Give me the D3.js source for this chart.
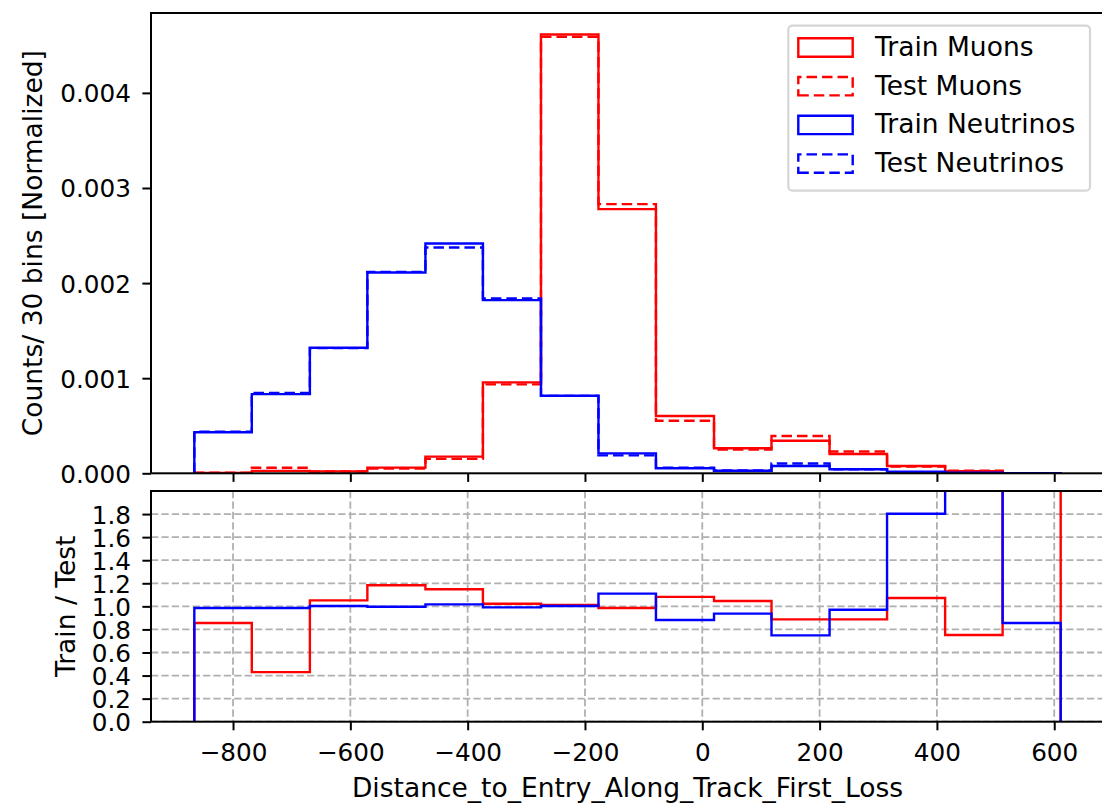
<!DOCTYPE html>
<html>
<head>
<meta charset="utf-8">
<script src="https://cdn.jsdelivr.net/npm/d3@7"></script>
<style>
  html, body { margin: 0; padding: 0; background: #fff; }
  svg { display: block; font-family: "DejaVu Sans", sans-serif; }
</style>
</head>
<body>
<svg id="chart" width="1102" height="803"></svg>
<script>
// ---------------- data ----------------
const binEdges = [-866, -768, -669, -571, -472, -374, -275, -177, -79, 20, 118, 217, 315, 414, 512, 611];

const trainMuons     = [0.000004, 0.000025, 0.000020, 0.000060, 0.000175, 0.000956, 0.004614, 0.002778, 0.000602, 0.000263, 0.000343, 0.000203, 0.000077, 0.000021, 0.000002];
const testMuons      = [0.000005, 0.000058, 0.000019, 0.000051, 0.000152, 0.000935, 0.004589, 0.002830, 0.000553, 0.000251, 0.000392, 0.000229, 0.000072, 0.000028, 0.0000005];
const trainNeutrinos = [0.000431, 0.000833, 0.001320, 0.002112, 0.002417, 0.001821, 0.000816, 0.000210, 0.000053, 0.000027, 0.000077, 0.000042, 0.000017, 0.000006, 0.0000015];
const testNeutrinos  = [0.000437, 0.000845, 0.001316, 0.002118, 0.002375, 0.001838, 0.000814, 0.000189, 0.000060, 0.000029, 0.000103, 0.000043, 0.0000094, 0.000002, 0.0000018];

const ratioMuons     = [0.856, 0.430, 1.052, 1.183, 1.148, 1.023, 1.012, 0.986, 1.082, 1.047, 0.887, 0.887, 1.073, 0.751, 4.0];
const ratioNeutrinos = [0.986, 0.986, 1.003, 0.997, 1.017, 0.991, 1.003, 1.110, 0.882, 0.937, 0.748, 0.971, 1.803, 3.0, 0.856];

const xTicks      = [-800, -600, -400, -200, 0, 200, 400, 600];
const yTicksTop   = [0.000, 0.001, 0.002, 0.003, 0.004];
const yTicksBot   = [0.0, 0.2, 0.4, 0.6, 0.8, 1.0, 1.2, 1.4, 1.6, 1.8];
const topYMax     = 0.00484;
const botYMax     = 2.0;

const legendLabels = ["Train Muons", "Test Muons", "Train Neutrinos", "Test Neutrinos"];
const xLabel    = "Distance_to_Entry_Along_Track_First_Loss";
const yLabelTop = "Counts/ 30 bins [Normalized]";
const yLabelBot = "Train / Test";

// ---------------- layout ----------------
const svg = d3.select("#chart");
const L = 151, R = 1104;
const topT = 13, topB = 473.3;
const botT = 491, botB = 721.7;
const tickFont = 24.7, labelFont = 26.5;
const tickLen = 8.6, spineW = 2;
const histW = 2.4, dashPat = "10.5,5";
const RED = "#ff0000", BLUE = "#0000ff";

const span = binEdges[binEdges.length - 1] - binEdges[0];
const x = d3.scaleLinear()
  .domain([binEdges[0] - 0.05 * span, binEdges[binEdges.length - 1] + 0.05 * span])
  .range([L, R]);
const yTop = d3.scaleLinear().domain([0, topYMax]).range([topB, topT]);
const yBot = d3.scaleLinear().domain([0, botYMax]).range([botB, botT]);

const defs = svg.append("defs");
defs.append("clipPath").attr("id", "clipTop").append("rect")
  .attr("x", L).attr("y", topT).attr("width", R - L).attr("height", topB - topT);
defs.append("clipPath").attr("id", "clipBot").append("rect")
  .attr("x", L).attr("y", botT).attr("width", R - L).attr("height", botB - botT);

function stepPoints(vals) {
  const pts = [[binEdges[0], 0]];
  vals.forEach((v, i) => {
    pts.push([binEdges[i], v]);
    pts.push([binEdges[i + 1], v]);
  });
  pts.push([binEdges[binEdges.length - 1], 0]);
  return pts;
}

function drawStep(g, vals, yScale, color, dashed) {
  const line = d3.line().x(d => x(d[0])).y(d => yScale(d[1]));
  g.append("path")
    .attr("d", line(stepPoints(vals)))
    .attr("fill", "none")
    .attr("stroke", color)
    .attr("stroke-width", histW)
    .attr("stroke-linejoin", "miter")
    .attr("stroke-dasharray", dashed ? dashPat : null);
}

// ---------------- bottom panel grid ----------------
const gridG = svg.append("g").attr("clip-path", "url(#clipBot)");
yTicksBot.forEach(t => {
  gridG.append("line")
    .attr("x1", L).attr("x2", R).attr("y1", yBot(t)).attr("y2", yBot(t))
    .attr("stroke", "#b0b0b0").attr("stroke-width", 1.8).attr("stroke-dasharray", "7.3,3.1");
});
xTicks.forEach(t => {
  gridG.append("line")
    .attr("x1", x(t)).attr("x2", x(t)).attr("y1", botT).attr("y2", botB)
    .attr("stroke", "#b0b0b0").attr("stroke-width", 1.8).attr("stroke-dasharray", "7.3,3.1");
});

// ---------------- histograms ----------------
const topG = svg.append("g").attr("clip-path", "url(#clipTop)");
drawStep(topG, trainMuons, yTop, RED, false);
drawStep(topG, testMuons, yTop, RED, true);
drawStep(topG, trainNeutrinos, yTop, BLUE, false);
drawStep(topG, testNeutrinos, yTop, BLUE, true);

const botG = svg.append("g").attr("clip-path", "url(#clipBot)");
drawStep(botG, ratioMuons, yBot, RED, false);
drawStep(botG, ratioNeutrinos, yBot, BLUE, false);

// ---------------- axes ----------------
function styleAxis(g, withLabels) {
  g.select(".domain").remove();
  g.selectAll(".tick line").attr("stroke", "#000").attr("stroke-width", spineW);
  g.selectAll(".tick text")
    .attr("fill", "#000")
    .style("font-size", tickFont + "px")
    .style("font-family", "DejaVu Sans, sans-serif");
  if (!withLabels) g.selectAll(".tick text").remove();
}

const minusFmt = d => (d < 0 ? "\u2212" + Math.abs(d) : String(d));

// top panel x ticks (no labels)
const axTopX = svg.append("g").attr("transform", `translate(0,${topB})`)
  .call(d3.axisBottom(x).tickValues(xTicks).tickSize(tickLen).tickFormat(""));
styleAxis(axTopX, false);

// bottom panel x ticks
const axBotX = svg.append("g").attr("transform", `translate(0,${botB})`)
  .call(d3.axisBottom(x).tickValues(xTicks).tickSize(tickLen).tickPadding(0).tickFormat(minusFmt));
styleAxis(axBotX, true);
axBotX.selectAll(".tick text").attr("dy", null).attr("y", 760.7 - botB).attr("dominant-baseline", "alphabetic");

// top panel y ticks
const axTopY = svg.append("g").attr("transform", `translate(${L},0)`)
  .call(d3.axisLeft(yTop).tickValues(yTicksTop).tickSize(tickLen).tickFormat(d3.format(".3f")));
styleAxis(axTopY, true);
axTopY.selectAll(".tick text").attr("x", 131 - L).attr("dy", null).attr("y", 9);

// bottom panel y ticks
const axBotY = svg.append("g").attr("transform", `translate(${L},0)`)
  .call(d3.axisLeft(yBot).tickValues(yTicksBot).tickSize(tickLen).tickFormat(d3.format(".1f")));
styleAxis(axBotY, true);
axBotY.selectAll(".tick text").attr("x", 131 - L).attr("dy", null).attr("y", 9);

// spines
function spines(t, b) {
  const g = svg.append("g").attr("stroke", "#000").attr("stroke-width", spineW).attr("fill", "none");
  g.append("rect").attr("x", L).attr("y", t).attr("width", R - L).attr("height", b - t);
}
spines(topT, topB);
spines(botT, botB);

// ---------------- labels ----------------
svg.append("text")
  .attr("x", (L + R) / 2).attr("y", 796.7)
  .attr("text-anchor", "middle")
  .style("font-size", labelFont + "px")
  .text(xLabel);

svg.append("text")
  .attr("transform", `translate(41.5,${(topT + topB) / 2}) rotate(-90)`)
  .attr("text-anchor", "middle")
  .style("font-size", labelFont + "px")
  .text(yLabelTop);

svg.append("text")
  .attr("transform", `translate(75,${(botT + botB) / 2}) rotate(-90)`)
  .attr("text-anchor", "middle")
  .style("font-size", labelFont + "px")
  .text(yLabelBot);

// ---------------- legend ----------------
const legG = svg.append("g");
legG.append("rect")
  .attr("x", 788.3).attr("y", 25.7).attr("width", 301.7).attr("height", 165)
  .attr("rx", 4).attr("ry", 4)
  .attr("fill", "#fff").attr("fill-opacity", 0.8)
  .attr("stroke", "#d6d6d6").attr("stroke-width", 2.2);

const legColors = [RED, RED, BLUE, BLUE];
const legDashed = [false, true, false, true];
legendLabels.forEach((lab, i) => {
  const base = 56 + i * 38.7;
  const x0 = 798.3, x1 = 852.7, y0 = base - 17.7, y1 = base + 0.7;
  // outline drawn from lower-left corner, like a matplotlib patch
  legG.append("path")
    .attr("d", `M${x0},${y1}H${x1}V${y0}H${x0}Z`)
    .attr("fill", "none").attr("stroke", legColors[i]).attr("stroke-width", histW)
    .attr("stroke-dasharray", legDashed[i] ? dashPat : null);
  legG.append("text")
    .attr("x", 875).attr("y", base)
    .style("font-size", labelFont + "px")
    .text(lab);
});
</script>
</body>
</html>
